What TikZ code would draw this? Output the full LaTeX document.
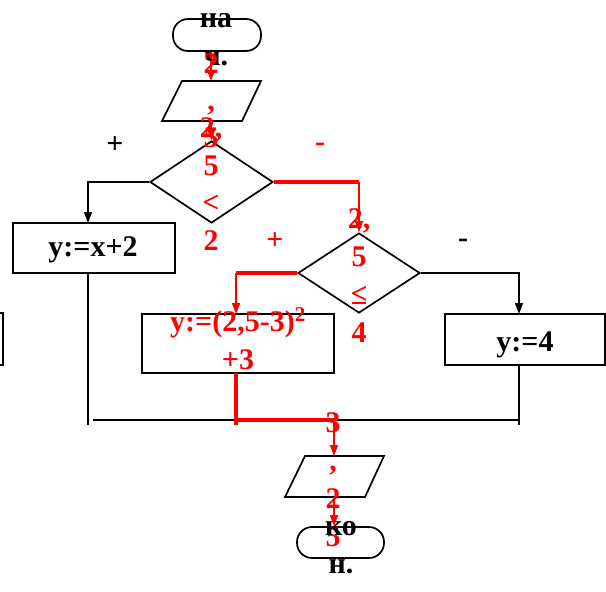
\documentclass[tikz,border=0pt]{standalone}
\usepackage{fontspec}
\setmainfont{Liberation Serif}
\usetikzlibrary{arrows.meta,shapes.geometric}
\begin{document}
\begin{tikzpicture}[x=1pt,y=-1pt,
  every node/.style={font=\fontsize{30}{38}\selectfont\bfseries},
  fig/.style={draw, line width=1.7pt, inner sep=0pt},
  blk/.style={line width=1.5pt},
  rthick/.style={red, line width=4.5pt},
  rthin/.style={red, line width=1.5pt},
  arr/.style={-{Triangle[length=11pt,width=8pt]}},
  txt/.style={anchor=base, inner sep=0pt},
  rtxt/.style={txt, text=red},
  lbl/.style={inner sep=0pt}]
\useasboundingbox (0,0) rectangle (606,592);
\clip (0,0) rectangle (606,592);

% shapes
\node[fig, rounded corners=15pt, minimum width=88pt, minimum height=32pt] (start) at (217,35) {};
\draw[line width=1.7pt] (182,81) -- (261,81) -- (242,121) -- (162,121) -- cycle;
\coordinate (in1top) at (211,81);
\coordinate (in1bot) at (211,121);
\node[fig, diamond, minimum width=123pt, minimum height=82pt] (d1) at (211.5,182) {};
\node[fig, minimum width=162pt, minimum height=50pt] (b1) at (94,248) {};
\node[fig, minimum width=104pt, minimum height=52pt] (b0) at (-49,339) {};
\node[fig, diamond, minimum width=122pt, minimum height=80pt] (d2) at (359,273) {};
\node[fig, minimum width=192pt, minimum height=59pt] (b2) at (238,343.5) {};
\node[fig, minimum width=160pt, minimum height=51pt] (b3) at (525,339.5) {};
\draw[line width=1.7pt] (305,456) -- (384,456) -- (365,497) -- (285,497) -- cycle;
\coordinate (in2top) at (334,456);
\coordinate (in2bot) at (334,497);
\node[fig, rounded corners=15pt, minimum width=87pt, minimum height=31pt] (end) at (340.5,542.5) {};

% connector points
\coordinate (b1in) at (88,223);
\coordinate (b1out) at (88,273);
\coordinate (jl) at (88,425);
\coordinate (b2in) at (236,314);
\coordinate (b2out) at (236,373);
\coordinate (b3in) at (519,314);
\coordinate (b3out) at (519,365);
\coordinate (jr) at (519,425);
\coordinate (hl) at (93,420);
\coordinate (hr) at (519,420);
\coordinate (m) at (334,420);
\coordinate (rb) at (236,425);

% connectors
\draw[rthin, arr] (in1top |- start.south) -- (in1top);
\draw[rthin, arr] (in1bot) -- (d1.north);
\draw[blk, arr] (d1.west) -| (b1in);
\draw[blk] (b1out) -- (jl);
\draw[rthick] (d1.east) -- (d1.east -| d2.north);
\draw[rthin, arr] (d1.east -| d2.north) -- (d2.north);
\draw[rthick] (d2.west) -- (d2.west -| b2in);
\draw[rthin, arr] (d2.west -| b2in) -- (b2in);
\draw[blk, arr] (d2.east) -| (b3in);
\draw[blk] (b3out) -- (jr);
\draw[blk] (hl) -- (hr);
\draw[rthick] (b2out) -- (rb);
\draw[rthick] (b2out |- m) -- (m);
\draw[rthin, arr] (m) -- (m |- in2top);
\draw[rthin, arr] (in2bot) -- (in2bot |- end.north);

% texts
\node[txt] (t1) at (216,27) {на};
\node[txt] (t2) at (216,65) {ч.};
\node[rtxt] (p1a) at (211,73) {2};
\node[rtxt] (p1b) at (211,110) {,};
\node[rtxt] (p1c) at (211,147) {5};
\node[rtxt] (c1a) at (211,137) {2,};
\node[rtxt] (c1b) at (211,175) {5};
\node[rtxt] (c1c) at (211,212) {<};
\node[rtxt] (c1d) at (211,250) {2};
\node[rtxt] (c2a) at (359,228) {2,};
\node[rtxt] (c2b) at (359,266) {5};
\node[rtxt] (c2c) at (359,304) {≤};
\node[rtxt] (c2d) at (359,342) {4};
\node[txt] (tb1) at (93,256) {y:=x+2};
\node[rtxt] (tb2a) at (238,331) {y:=(2,5-3)\textsuperscript{2}};
\node[rtxt] (tb2b) at (238,369) {+3};
\node[txt] (tb3) at (525,351) {y:=4};
\node[rtxt] (p2a) at (333,432) {3};
\node[rtxt] (p2b) at (333,470) {,};
\node[rtxt] (p2c) at (333,508) {2};
\node[rtxt] (p2d) at (333,546) {5};
\node[txt] (e1) at (341,535) {ко};
\node[txt] (e2) at (341,573) {н.};
\node[lbl] (l1) at (115,145) {+};
\node[lbl, text=red] (l2) at (320,147) {-};
\node[lbl, text=red] (l3) at (275,241) {+};
\node[lbl] (l4) at (463,243) {-};
\end{tikzpicture}
\end{document}
